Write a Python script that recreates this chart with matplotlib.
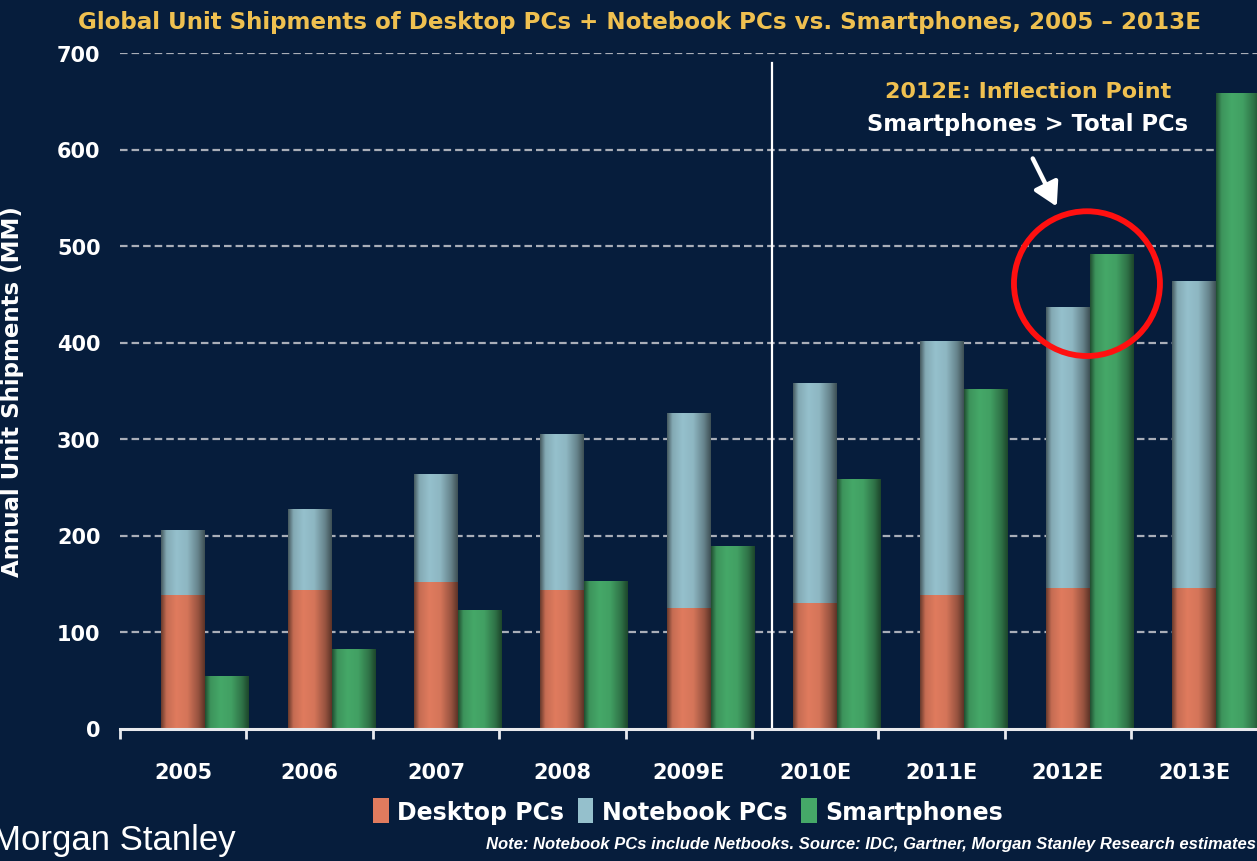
import numpy as np
import matplotlib
matplotlib.use("Agg")
import matplotlib.pyplot as plt
from matplotlib.patches import Ellipse, Patch, FancyArrowPatch
from matplotlib.colors import to_rgb

plt.rcParams['font.family'] = ['DejaVu Sans']

# ---- data ----
years = ["2005", "2006", "2007", "2008", "2009E", "2010E", "2011E", "2012E", "2013E"]
desktop = [138, 144, 152, 144, 125, 130, 138, 146, 146]
notebook = [67, 83, 111, 161, 202, 227, 263, 291, 318]
smartphones = [53, 81, 122, 152, 188, 257, 351, 491, 657]
y_ticks = [0, 100, 200, 300, 400, 500, 600, 700]

BG = "#061d3c"
C_DESK = "#e07b5e"
C_NOTE = "#95c0cc"
C_SMART = "#45a868"
YELLOW = "#efc050"

W, H = 1257, 862
fig = plt.figure(figsize=(W / 100, H / 100), dpi=100, facecolor=BG)
ax = fig.add_axes([120 / W, (H - 729.5) / H, 1137.6 / W, 675.5 / H])
ax.set_facecolor(BG)

x = np.arange(len(years))
bw = 0.348

b_desk = ax.bar(x, desktop, bw, color=C_DESK, zorder=3)
b_note = ax.bar(x, notebook, bw, bottom=desktop, color=C_NOTE, zorder=3)
b_smart = ax.bar(x + bw, smartphones, bw, color=C_SMART, zorder=3)

# cylinder-like shading
tp = np.array([0.0, 0.12, 0.35, 0.6, 0.85, 1.0])
bp = np.array([0.48, 0.88, 1.0, 0.95, 0.68, 0.42])
tt = np.linspace(0, 1, 64)
prof = np.interp(tt, tp, bp)


def shade(bars, color):
    rgb = np.array(to_rgb(color))
    img = np.clip(prof[None, :, None] * rgb[None, None, :], 0, 1)
    for b in bars:
        x0, y0 = b.get_x(), b.get_y()
        b.set_facecolor("none")
        ax.imshow(img, extent=[x0, x0 + b.get_width(), y0, y0 + b.get_height()],
                  aspect="auto", interpolation="bilinear", zorder=3.5)


shade(b_desk, C_DESK)
shade(b_note, C_NOTE)
shade(b_smart, C_SMART)

ax.set_xlim(-0.5, len(years) - 0.5)
ax.set_ylim(0, 700)

# gridlines
for v in y_ticks[1:]:
    ax.axhline(v, color="#a9aeb8", lw=1.6, dashes=(3.4, 1.8), zorder=2)

# separator line
ax.axvline(4.66, ymin=0, ymax=690 / 700, color="white", lw=1.6, zorder=2)

for s in ["top", "right", "left"]:
    ax.spines[s].set_visible(False)
ax.spines["bottom"].set_color("#e8eaee")
ax.spines["bottom"].set_linewidth(2.2)
ax.spines["bottom"].set_zorder(5)

ax.set_yticks(y_ticks)
ax.set_yticklabels([str(v) for v in y_ticks])
ax.tick_params(axis="y", length=0, pad=14, labelcolor="white", labelsize=15)
for t in ax.get_yticklabels():
    t.set_fontweight("bold")

ax.set_xticks(x)
ax.set_xticklabels(years)
ax.tick_params(axis="x", which="major", length=0, pad=24, labelcolor="white", labelsize=15)
for t in ax.get_xticklabels():
    t.set_fontweight("bold")
ax.set_xticks(np.arange(-0.5, len(years), 1.0), minor=True)
ax.tick_params(axis="x", which="minor", length=7, width=2, color="#e8eaee", direction="out")

ax.set_ylabel("Annual Unit Shipments (MM)", color="white", fontsize=16.5, fontweight="bold")
ax.yaxis.set_label_coords(-(120 - 24) / 1137.6, 0.5)

# title
fig.text(640 / W, 1 - 22 / H, "Global Unit Shipments of Desktop PCs + Notebook PCs vs. Smartphones, 2005 \u2013 2013E",
         color=YELLOW, fontsize=16.6, fontweight="bold", ha="center", va="center")

# annotation
fig.text(1028 / W, 1 - 92 / H, "2012E: Inflection Point", color=YELLOW, fontsize=16,
         fontweight="bold", ha="center", va="center")
fig.text(1028 / W, 1 - 124 / H, "Smartphones > Total PCs", color="white", fontsize=16.3,
         fontweight="bold", ha="center", va="center")
ax.add_patch(Ellipse((7.15, 461), 1.155, 150, fill=False, edgecolor="#ff1010", lw=4.2, zorder=6))
fig.add_artist(FancyArrowPatch(
    (1031.5 / W, 1 - 157 / H), (1058 / W, 1 - 210 / H), transform=fig.transFigure,
    arrowstyle="-|>,head_length=0.7,head_width=0.4", mutation_scale=20, lw=3.2,
    color="white", zorder=7))

# legend
handles = [Patch(facecolor=C_DESK, edgecolor="none"),
           Patch(facecolor=C_NOTE, edgecolor="none"),
           Patch(facecolor=C_SMART, edgecolor="none")]
leg = fig.legend(handles, ["Desktop PCs", "Notebook PCs", "Smartphones"], loc="center",
                 bbox_to_anchor=(688 / W, 1 - 812 / H), ncol=3, frameon=False,
                 handlelength=0.65, handleheight=1.2, handletextpad=0.35, columnspacing=0.6,
                 prop={"size": 17, "weight": "bold"})
for t in leg.get_texts():
    t.set_color("white")

# footer
fig.text(236 / W, (H - 850) / H, "Morgan Stanley", color="white", fontsize=25,
         ha="right", va="baseline", family=["Liberation Sans", "DejaVu Sans"])
fig.text(1256 / W, (H - 849) / H,
         "Note: Notebook PCs include Netbooks. Source: IDC, Gartner, Morgan Stanley Research estimates",
         color="white", fontsize=12, style="italic", weight="bold", ha="right", va="baseline",
         family=["Liberation Sans", "DejaVu Sans"])

fig.savefig("out.png", dpi=100, facecolor=BG)
